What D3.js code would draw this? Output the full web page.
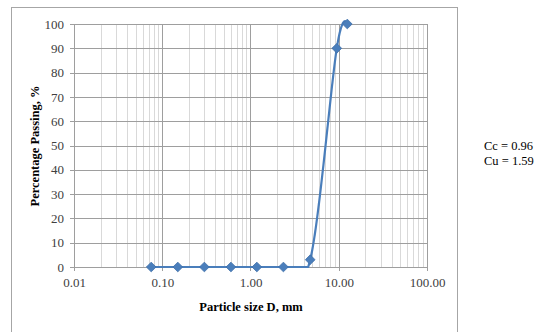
<!DOCTYPE html>
<meta charset="utf-8">
<style>
  body { margin: 0; background: #fff; }
  svg text { font-family: 'Liberation Serif', 'Times New Roman', serif !important; }
  .tick text { font-size: 13px; fill: #404040; }
  .domain { display: none; }
</style>
<script src="https://d3js.org/d3.v7.min.js"></script>
<div id="chart"></div>
<script>
  // sieve data
  const sizes = [0.075, 0.15, 0.3, 0.6, 1.18, 2.36, 4.75, 9.5, 12.5];
  const passing = [0, 0, 0, 0, 0, 0, 3, 90, 100];
  const xTicks = [0.01, 0.1, 1, 10, 100];
  const yTicks = [0, 10, 20, 30, 40, 50, 60, 70, 80, 90, 100];
  const notes = ["Cc = 0.96", "Cu = 1.59"];

  const W = 547, H = 332;
  const plot = {left: 74, right: 427, top: 24, bottom: 267};

  const svg = d3.select("#chart").append("svg")
    .attr("width", W).attr("height", H);

  // outer chart frame
  svg.append("rect")
    .attr("x", 11.5).attr("y", 7.5)
    .attr("width", 446).attr("height", 340)
    .attr("fill", "none").attr("stroke", "#a6a6a6");

  const x = d3.scaleLog().domain([0.01, 100]).range([plot.left, plot.right]);
  const y = d3.scaleLinear().domain([0, 100]).range([plot.bottom, plot.top]);

  // minor vertical grid
  const minor = [];
  for (let d = 0.01; d < 100; d *= 10) {
    for (let k = 2; k <= 9; k++) minor.push(d * k);
  }
  svg.append("g").selectAll("line").data(minor).join("line")
    .attr("x1", d => Math.round(x(d)) + 0.5).attr("x2", d => Math.round(x(d)) + 0.5)
    .attr("y1", plot.top).attr("y2", plot.bottom)
    .attr("stroke", "#d9d9d9").attr("stroke-width", 1);

  // major vertical grid
  svg.append("g").selectAll("line").data(xTicks).join("line")
    .attr("x1", d => Math.round(x(d)) + 0.5).attr("x2", d => Math.round(x(d)) + 0.5)
    .attr("y1", plot.top).attr("y2", plot.bottom + 4)
    .attr("stroke", "#9e9e9e").attr("stroke-width", 1);

  // horizontal grid
  svg.append("g").selectAll("line").data(yTicks).join("line")
    .attr("x1", plot.left - 4).attr("x2", plot.right)
    .attr("y1", d => Math.round(y(d)) + 0.5).attr("y2", d => Math.round(y(d)) + 0.5)
    .attr("stroke", "#9e9e9e").attr("stroke-width", 1);

  // axes labels
  svg.append("g")
    .attr("transform", `translate(0,${plot.bottom})`)
    .call(d3.axisBottom(x).tickValues(xTicks).tickSize(0).tickPadding(11)
      .tickFormat(d3.format(".2f")))
    .attr("font-family", null).attr("font-size", null);

  svg.append("g")
    .attr("transform", `translate(${plot.left},0)`)
    .call(d3.axisLeft(y).tickValues(yTicks).tickSize(0).tickPadding(10))
    .attr("font-family", null).attr("font-size", null);

  // smoothed line (uniform catmull-rom like excel), then sampled and
  // kept from dipping below the x axis
  const pts = sizes.map((s, i) => [s, passing[i]]);
  const smooth = svg.append("path")
    .datum(pts)
    .attr("fill", "none")
    .attr("d", d3.line()
      .curve(d3.curveCatmullRom.alpha(0))
      .x(d => x(d[0]))
      .y(d => y(d[1])));
  const node = smooth.node();
  const len = node.getTotalLength();
  const samples = d3.range(0, len, 0.5).concat([len]).map(l => {
    const p = node.getPointAtLength(l);
    return [p.x, Math.min(p.y, y(0))];
  });
  smooth.remove();

  svg.append("path")
    .datum(samples)
    .attr("fill", "none")
    .attr("stroke", "#4a7ebb")
    .attr("stroke-width", 2.2)
    .attr("stroke-linejoin", "round")
    .attr("d", d3.line());

  svg.append("g").selectAll("path").data(pts).join("path")
    .attr("transform", d => `translate(${x(d[0])},${y(d[1])})`)
    .attr("d", d3.symbol(d3.symbolDiamond2, 60))
    .attr("fill", "#4a7ebb")
    .attr("stroke", "#3d6fa8").attr("stroke-width", 0.8);

  // axis titles
  svg.append("text")
    .attr("x", 251).attr("y", 311)
    .attr("text-anchor", "middle")
    .style("font-size", "12.5px").style("font-weight", "bold")
    .text("Particle size D, mm");

  svg.append("text")
    .attr("transform", "translate(39,146) rotate(-90)")
    .attr("text-anchor", "middle")
    .style("font-size", "12.5px").style("font-weight", "bold")
    .text("Percentage Passing, %");

  // coefficients
  svg.append("g").selectAll("text").data(notes).join("text")
    .attr("x", 484).attr("y", (d, i) => 150 + i * 15)
    .style("font-size", "12.5px").attr("fill", "#000")
    .text(d => d);
</script>
